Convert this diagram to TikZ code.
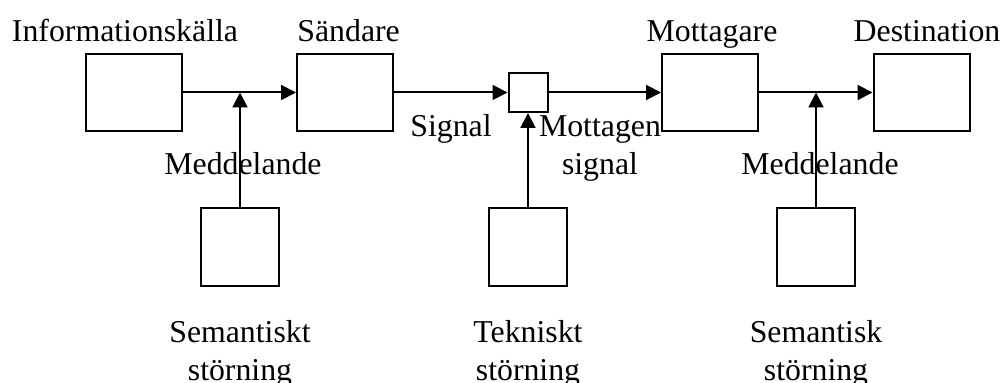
\documentclass[tikz,border=0pt]{standalone}
\usepackage{fontspec}
\setmainfont{Liberation Serif}
\usepackage{tikz}
\usetikzlibrary{arrows.meta,positioning,calc}
\tikzstyle{unit} = [rectangle, draw, line width=1pt, minimum width=48pt, minimum height=38.5pt, inner sep=0pt]
\tikzstyle{noise} = [rectangle, draw, line width=1pt, minimum width=39pt, minimum height=39pt, inner sep=0pt]
\tikzstyle{mixer} = [rectangle, draw, line width=1pt, minimum width=19.5pt, minimum height=19.5pt, inner sep=0pt]
\tikzstyle{lbl} = [anchor=base, inner sep=0pt, align=center]
\tikzstyle{flow} = [-{Triangle[length=7.5pt,width=7.5pt]}, line width=1pt]

\begin{document}
\begin{tikzpicture}[x=0.5pt, y=-0.5pt, font=\fontsize{15.9}{19}\selectfont]
	\useasboundingbox (0,0) rectangle (1004,383);

	% upper chain
	\node[unit] (source) at (134,92.5) {};
	\node[unit] (sender) at (345,92.5) {};
	\node[mixer] (channel) at (528,92.5) {};
	\node[unit] (receiver) at (710,92.5) {};
	\node[unit] (dest) at (921.5,92.5) {};

	\node[lbl] at (125,42) {Informationskälla};
	\node[lbl, anchor=base west] at (297,42) {Sändare};
	\node[lbl] at (712,42) {Mottagare};
	\node[lbl] at (927,42) {Destination};

	% noise sources
	\node[noise] (semA) at (240,247) {};
	\node[noise] (tech) at (528,247) {};
	\node[noise] (semB) at (816,247) {};

	\node[lbl] at (240,381) {Semantiskt\\störning};
	\node[lbl] at (528,381) {Tekniskt\\störning};
	\node[lbl] at (816,381) {Semantisk\\störning};

	\coordinate (msgA) at (240,92.5);
	\coordinate (msgB) at (816,92.5);

	\draw[flow] (source) -- (sender);
	\draw[flow] (sender) -- (channel);
	\draw[flow] (channel) -- (receiver);
	\draw[flow] (receiver) -- (dest);

	\draw[flow] (semA) -- (msgA);
	\draw[flow] (tech) -- (channel);
	\draw[flow] (semB) -- (msgB);

	\node[lbl] at (243,175) {Meddelande};
	\node[lbl] at (820,175) {Meddelande};
	\node[lbl] at (451,137) {Signal};
	\node[lbl] at (600,175) {Mottagen\\signal};
\end{tikzpicture}
\end{document}
